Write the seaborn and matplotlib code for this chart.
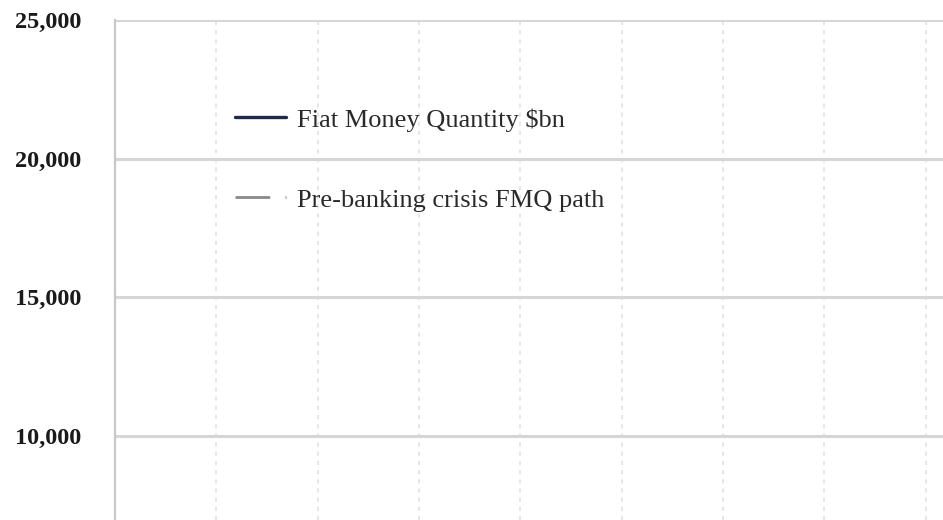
import seaborn as sns
import matplotlib.pyplot as plt
from matplotlib.ticker import FuncFormatter

# Series shown in the legend; no data points fall inside the visible window
series_names = ["Fiat Money Quantity $bn", "Pre-banking crisis FMQ path"]
series_colors = ["#1f2a48", "#8a8a8a"]
fmq_x, fmq_y = [], []
pre_crisis_x, pre_crisis_y = [], []

# Axis ticks
y_ticks = [10000, 15000, 20000, 25000]
x_ticks = [1, 2, 3, 4, 5, 6, 7, 8]

sns.set_style("white")
plt.rcParams["font.family"] = ["Liberation Serif", "DejaVu Serif"]

fig = plt.figure(figsize=(9.43, 5.2), dpi=100)
ax = fig.add_axes([0.122, 0.0, 0.878, 0.9615])

ax.plot(fmq_x, fmq_y, color=series_colors[0], lw=2.4, label=series_names[0])
ax.plot(pre_crisis_x, pre_crisis_y, color=series_colors[1], lw=2.0,
        dashes=(12.5, 5.5), label=series_names[1])

ax.set_xlim(0, 8.17)
ax.set_ylim(6970, 25000)
ax.set_yticks(y_ticks)
ax.yaxis.set_major_formatter(FuncFormatter(lambda v, p: f"{v:,.0f}"))
ax.set_xticks(x_ticks)
ax.set_xticklabels([])

# gridlines: solid horizontal, dashed vertical
ax.yaxis.grid(True, color="#d6d6d6", lw=2.2, ls="-")
ax.xaxis.grid(True, color="#e2e2e2", lw=1.2, ls=(0, (2.5, 3)))
ax.set_axisbelow(True)

for s in ["top", "right", "bottom"]:
    ax.spines[s].set_visible(False)
ax.spines["left"].set_color("#c8c8c8")
ax.spines["left"].set_linewidth(1.6)

ax.tick_params(axis="y", length=5, width=1.6, color="#d6d6d6", pad=19,
               labelsize=17.5, labelcolor="#1a1a1a")
for lbl in ax.get_yticklabels():
    lbl.set_fontweight("bold")
ax.tick_params(axis="x", length=0)

fig.legend(loc="upper left", bbox_to_anchor=(235 / 943, 1 - 108 / 520),
           frameon=False, fontsize=19, handlelength=1.95, handletextpad=0.4,
           labelspacing=2.15, borderpad=0, borderaxespad=0, labelcolor="#2a2a2a")

fig.savefig("out.png", dpi=100)
